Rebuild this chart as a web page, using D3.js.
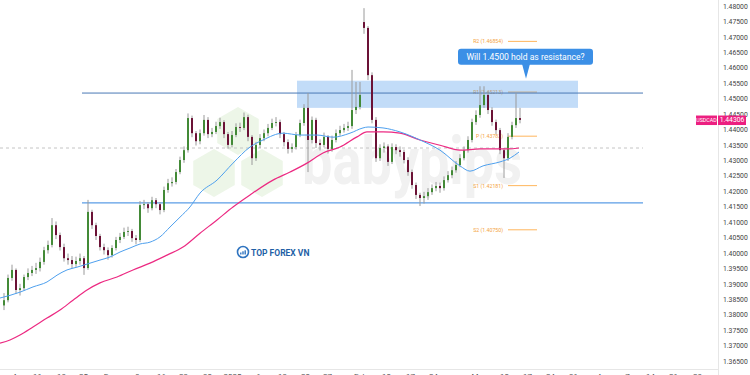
<!DOCTYPE html>
<html>
<head>
<meta charset="utf-8">
<script src="https://cdn.jsdelivr.net/npm/d3@7"></script>
<style>
body { margin: 0; background: #fff; }
svg { display: block; font-family: Roboto, "Liberation Sans", Arial, sans-serif; }
</style>
</head>
<body>
<div id="chart"></div>
<script>
// USDCAD 4H candles (index = candle slot)
var closes = [
  1.3847,1.3919,1.3945,1.3880,1.3886,1.3922,1.3935,1.3945,1.3951,1.3971,
  1.4009,1.4026,1.4090,1.4058,1.4019,1.3983,1.3977,1.3964,1.3974,1.3983,
  1.3951,1.4133,1.4090,1.4055,1.4019,1.4009,1.3993,1.4016,1.4042,1.4052,
  1.4068,1.4071,1.4048,1.4042,1.4155,1.4158,1.4145,1.4171,1.4158,1.4139,
  1.4204,1.4226,1.4230,1.4262,1.4301,1.4333,1.4437,1.4388,1.4362,1.4388,
  1.4431,1.4385,1.4392,1.4411,1.4424,1.4385,1.4350,1.4382,1.4408,1.4405,
  1.4440,1.4376,1.4307,1.4350,1.4372,1.4388,1.4405,1.4421,1.4424,1.4385,
  1.4359,1.4337,1.4343,1.4382,1.4421,1.4470,1.4366,1.4431,1.4356,1.4350,
  1.4376,1.4337,1.4366,1.4388,1.4398,1.4405,1.4411,1.4463,1.4473,1.4512,
  1.4729,1.4576,1.4431,1.4307,1.4340,1.4345,1.4295,1.4343,1.4333,1.4327,
  1.4301,1.4262,1.4220,1.4188,1.4178,1.4184,1.4197,1.4210,1.4217,1.4210,
  1.4236,1.4252,1.4268,1.4285,1.4307,1.4333,1.4366,1.4424,1.4447,1.4479,
  1.4512,1.4463,1.4424,1.4398,1.4333,1.4307,1.4376,1.4414,1.4437,1.4431
];
var highs = [
  1.3870,1.3930,1.3962,1.3950,1.3900,1.3930,1.3950,1.3958,1.3968,1.3985,
  1.4020,1.4040,1.4113,1.4102,1.4066,1.4030,1.3998,1.3990,1.3988,1.3998,
  1.3990,1.4172,1.4140,1.4098,1.4062,1.4030,1.4018,1.4025,1.4052,1.4065,
  1.4082,1.4085,1.4078,1.4058,1.4168,1.4172,1.4165,1.4182,1.4178,1.4165,
  1.4215,1.4240,1.4245,1.4272,1.4312,1.4345,1.4452,1.4445,1.4395,1.4400,
  1.4447,1.4440,1.4405,1.4425,1.4438,1.4430,1.4392,1.4395,1.4420,1.4422,
  1.4455,1.4448,1.4382,1.4360,1.4385,1.4400,1.4418,1.4435,1.4440,1.4432,
  1.4392,1.4368,1.4355,1.4392,1.4432,1.4482,1.4518,1.4442,1.4438,1.4368,
  1.4390,1.4382,1.4380,1.4400,1.4412,1.4418,1.4425,1.4593,1.4554,1.4554,
  1.4793,1.4735,1.4585,1.4440,1.4352,1.4358,1.4352,1.4355,1.4352,1.4345,
  1.4335,1.4310,1.4270,1.4228,1.4195,1.4198,1.4210,1.4222,1.4230,1.4228,
  1.4248,1.4265,1.4280,1.4298,1.4320,1.4345,1.4378,1.4435,1.4462,1.4540,
  1.4540,1.4525,1.4472,1.4432,1.4405,1.4340,1.4388,1.4425,1.4518,1.4470
];
var lows = [
  1.3815,1.3840,1.3910,1.3868,1.3862,1.3878,1.3912,1.3925,1.3932,1.3940,
  1.3962,1.3998,1.4018,1.4045,1.4008,1.3972,1.3962,1.3950,1.3955,1.3962,
  1.3929,1.3945,1.4078,1.4042,1.4008,1.3995,1.3978,1.3985,1.4008,1.4032,
  1.4045,1.4055,1.4036,1.4028,1.4035,1.4142,1.4130,1.4138,1.4145,1.4125,
  1.4132,1.4195,1.4215,1.4222,1.4255,1.4292,1.4325,1.4375,1.4348,1.4352,
  1.4380,1.4372,1.4375,1.4385,1.4402,1.4372,1.4338,1.4342,1.4375,1.4392,
  1.4398,1.4362,1.4285,1.4298,1.4340,1.4362,1.4378,1.4398,1.4410,1.4372,
  1.4345,1.4322,1.4325,1.4335,1.4375,1.4412,1.4262,1.4355,1.4340,1.4332,
  1.4342,1.4322,1.4328,1.4358,1.4380,1.4390,1.4395,1.4402,1.4450,1.4465,
  1.4710,1.4560,1.4420,1.4295,1.4298,1.4325,1.4282,1.4288,1.4320,1.4312,
  1.4290,1.4250,1.4208,1.4175,1.4152,1.4160,1.4172,1.4188,1.4200,1.4195,
  1.4202,1.4228,1.4242,1.4260,1.4278,1.4300,1.4325,1.4358,1.4415,1.4438,
  1.4470,1.4450,1.4412,1.4385,1.4320,1.4243,1.4298,1.4368,1.4405,1.4420
];
var firstOpen = 1.3830;
var gapOpens = [[90, 1.4748]];   // weekend gap (Feb 3 open)

// moving averages [slot, price]
var blueMA = [
  [-1,1.3854],[4,1.3873],[7.25,1.3890],[10.75,1.3906],[13.25,1.3928],[15.75,1.3945],
  [18.25,1.3954],[21.5,1.3967],[24,1.3977],[26.5,1.3987],[29,1.4003],[31.5,1.4016],
  [34,1.4029],[36.5,1.4035],[39,1.4052],[41.5,1.4084],[44,1.4116],[46.5,1.4149],
  [49,1.4194],[53.25,1.4236],[57.25,1.4291],[61.5,1.4343],[64.75,1.4366],[69.75,1.4388],
  [74,1.4382],[78.25,1.4382],[82.25,1.4375],[86.5,1.4388],[89.75,1.4405],[91,1.4408],
  [94.75,1.4405],[99,1.4392],[104,1.4366],[109,1.4333],[114,1.4282],[116.5,1.4265],
  [119.75,1.4282],[124,1.4295],[126.5,1.4307],[128.75,1.4327]
];
var pinkMA = [
  [-1,1.3708],[1.5,1.3718],[4,1.3734],[7.25,1.3760],[10.75,1.3789],[14,1.3815],
  [17.25,1.3847],[20.75,1.3880],[24,1.3903],[28.25,1.3922],[32.25,1.3945],[36.5,1.3967],
  [40.75,1.3993],[44.75,1.4019],[49,1.4064],[53.25,1.4107],[57.25,1.4149],[61.5,1.4188],
  [67.25,1.4236],[71.5,1.4262],[75.75,1.4291],[79.75,1.4324],[84,1.4343],[88.25,1.4376],
  [90.75,1.4392],[94.75,1.4392],[99,1.4388],[104,1.4366],[109,1.4349],[114,1.4333],
  [119,1.4337],[125.75,1.4337],[128.75,1.4340]
];

// drawn levels
var resistanceLevel = 1.4518;
var supportLevel = 1.4162;
var dashedLevel = 1.4340;
var zoneLow = 1.4470, zoneHigh = 1.4558;
var pivotNames = ["R2", "R1", "P", "S1", "S2"];
var pivotValues = [1.46854, 1.45213, 1.43783, 1.42181, 1.40750];
var lastPrice = 1.44306;

// time axis
var tickSlots = [2.5, 8.25, 14.25, 19.75, 26.5, 33.25, 39.25, 44.75, 50.75, 57, 63.5, 69.5, 75.25, 80.75,
  89, 95.5, 101.5, 107.25, 118.5, 125, 130.75, 136.5, 142.25, 149.75, 155.75, 161.5, 167.25, 173.25];
var tickLabels = ["4", "11", "18", "25", "Dec", "9", "16", "23", "30", "2025", "6", "13", "20", "27",
  "Feb", "10", "17", "24", "Mar", "10", "17", "24", "31", "Apr", "7", "14", "21", "28"];
var priceTicks = d3.range(0, 24).map(function (k) { return +(1.365 + k * 0.005).toFixed(3); });

var width = 750, height = 375;
var plotRight = 718, plotBottom = 369;

var x = d3.scaleLinear().domain([0, 129]).range([4, 520]);
var y = d3.scaleLinear().domain([1.365, 1.48]).range([361, 6]);

var svg = d3.select("#chart").append("svg")
  .attr("width", width)
  .attr("height", height);

svg.append("defs").append("clipPath").attr("id", "plot")
  .append("rect").attr("x", 0).attr("y", 0).attr("width", plotRight).attr("height", plotBottom);

var g = svg.append("g").attr("clip-path", "url(#plot)");

// watermark: hexagon logo + babypips text
var hexCenters = [[238, 131], [214, 173], [262, 173]];
hexCenters.forEach(function (c) {
  var pts = d3.range(6).map(function (k) {
    var a = Math.PI / 3 * k - Math.PI / 2;
    return [c[0] + 24 * Math.cos(a), c[1] + 24 * Math.sin(a)];
  });
  g.append("path").attr("d", "M" + pts.join("L") + "Z").attr("fill", "#edf6e8");
});
g.append("text")
  .attr("x", 302).attr("y", 184)
  .attr("textLength", 220).attr("lengthAdjust", "spacingAndGlyphs")
  .attr("font-size", 66).attr("font-weight", "bold")
  .attr("fill", "#f1f1f1")
  .text("babypips");

// TOP FOREX VN logo
var logo = g.append("g").attr("transform", "translate(243,252)");
logo.append("circle").attr("r", 5.5).attr("fill", "none").attr("stroke", "#2f74c0").attr("stroke-width", 1.6);
[[-2.2, 2], [0, 3.2], [2.2, 4.2]].forEach(function (b) {
  logo.append("rect").attr("x", b[0] - 0.7).attr("y", 2.5 - b[1]).attr("width", 1.4).attr("height", b[1]).attr("fill", "#2f74c0");
});
g.append("text").attr("x", 251).attr("y", 256)
  .attr("font-size", 8.5).attr("font-weight", "bold").attr("fill", "#1f5fa6")
  .text("TOP FOREX VN");

// pivot levels
var pivots = g.append("g");
pivotNames.forEach(function (name, i) {
  var v = pivotValues[i];
  pivots.append("line")
    .attr("x1", x(126)).attr("x2", x(133.25))
    .attr("y1", y(v)).attr("y2", y(v))
    .attr("stroke", "#ffb65c").attr("stroke-width", 1);
  pivots.append("text")
    .attr("x", x(124.75)).attr("y", y(v) + 2)
    .attr("text-anchor", "end")
    .attr("font-size", 5.2).attr("fill", "#f4a340")
    .text(name + " (" + v.toFixed(5) + ")");
});

// resistance zone
g.append("rect")
  .attr("x", x(73.25)).attr("width", x(143.5) - x(73.25))
  .attr("y", y(zoneHigh)).attr("height", y(zoneLow) - y(zoneHigh))
  .attr("fill", "rgba(70,150,235,0.33)");

// horizontal lines
g.append("line")
  .attr("x1", x(-1)).attr("x2", x(159.75))
  .attr("y1", y(dashedLevel)).attr("y2", y(dashedLevel))
  .attr("stroke", "#c4c4c4").attr("stroke-dasharray", "3,3").attr("stroke-width", 1);
g.append("line")
  .attr("x1", x(19.5)).attr("x2", x(159.75))
  .attr("y1", y(resistanceLevel)).attr("y2", y(resistanceLevel))
  .attr("stroke", "#4a78b5").attr("stroke-width", 1);
g.append("line")
  .attr("x1", x(19.5)).attr("x2", x(159.75))
  .attr("y1", y(supportLevel)).attr("y2", y(supportLevel))
  .attr("stroke", "#5b9de6").attr("stroke-width", 1.2);

// candles
var candles = closes.map(function (c, i) {
  return { i: i, open: i === 0 ? firstOpen : closes[i - 1], close: c, high: highs[i], low: lows[i] };
});
gapOpens.forEach(function (gp) { candles[gp[0]].open = gp[1]; });

var cg = g.append("g");
cg.selectAll("line.wick").data(candles).enter().append("line")
  .attr("class", "wick")
  .attr("x1", function (d) { return x(d.i); }).attr("x2", function (d) { return x(d.i); })
  .attr("y1", function (d) { return y(d.high); }).attr("y2", function (d) { return y(d.low); })
  .attr("stroke", "#9a9a9a").attr("stroke-width", 1);
cg.selectAll("rect.body").data(candles).enter().append("rect")
  .attr("class", "body")
  .attr("x", function (d) { return x(d.i) - 1; })
  .attr("width", 2)
  .attr("y", function (d) { return y(Math.max(d.open, d.close)); })
  .attr("height", function (d) { return Math.max(0.8, Math.abs(y(d.open) - y(d.close))); })
  .attr("fill", function (d) { return d.close >= d.open ? "#438a37" : "#6b1236"; });

// moving averages
var maLine = d3.line()
  .x(function (d) { return x(d[0]); })
  .y(function (d) { return y(d[1]); })
  .curve(d3.curveMonotoneX);
g.append("path").attr("d", maLine(pinkMA)).attr("fill", "none").attr("stroke", "#ec2a82").attr("stroke-width", 1.2);
g.append("path").attr("d", maLine(blueMA)).attr("fill", "none").attr("stroke", "#4ea0ee").attr("stroke-width", 1);

// callout
var tipX = x(130.5), tipY = y(1.4564);
var bubble = g.append("g");
bubble.append("rect")
  .attr("x", tipX - 68).attr("y", tipY - 30)
  .attr("width", 135).attr("height", 16).attr("rx", 3)
  .attr("fill", "#3b8fe6");
bubble.append("path")
  .attr("d", "M" + (tipX - 4) + "," + (tipY - 15) + "L" + tipX + "," + tipY + "L" + (tipX + 4) + "," + (tipY - 15) + "Z")
  .attr("fill", "#3b8fe6");
bubble.append("text")
  .attr("x", tipX - 0.5).attr("y", tipY - 19)
  .attr("text-anchor", "middle")
  .attr("font-size", 8.6).attr("fill", "#fff")
  .text("Will 1.4500 hold as resistance?");

// axes
svg.append("line").attr("x1", 0).attr("x2", plotRight).attr("y1", plotBottom + 0.5).attr("y2", plotBottom + 0.5)
  .attr("stroke", "#e6e6e6");
svg.append("line").attr("x1", plotRight + 0.5).attr("x2", plotRight + 0.5).attr("y1", 0).attr("y2", height)
  .attr("stroke", "#e6e6e6");

var yAxis = svg.append("g")
  .attr("transform", "translate(" + plotRight + ",0)")
  .call(d3.axisRight(y).tickValues(priceTicks).tickSize(0).tickPadding(5).tickFormat(d3.format(".5f")));
yAxis.select(".domain").remove();
yAxis.selectAll("text").attr("font-size", 6.8).attr("fill", "#444").attr("font-family", "Roboto, Arial, sans-serif");

var xAxis = svg.append("g")
  .attr("transform", "translate(0," + plotBottom + ")")
  .call(d3.axisBottom(x).tickValues(tickSlots).tickSize(0).tickPadding(4)
    .tickFormat(function (d, i) { return tickLabels[i]; }));
xAxis.select(".domain").remove();
xAxis.selectAll("text").attr("font-size", 8).attr("fill", "#555").attr("font-family", "Roboto, Arial, sans-serif");

// price badges
var by = y(lastPrice);
svg.append("rect").attr("x", 696).attr("y", by - 4.5).attr("width", 21).attr("height", 9.5).attr("fill", "#ec1f80");
svg.append("text").attr("x", 706.5).attr("y", by + 2).attr("text-anchor", "middle")
  .attr("font-size", 5.3).attr("fill", "#fff").text("USDCAD");
svg.append("rect").attr("x", 718).attr("y", by - 4.5).attr("width", 28).attr("height", 9.5).attr("fill", "#ec1f80");
svg.append("text").attr("x", 732).attr("y", by + 2.3).attr("text-anchor", "middle")
  .attr("font-size", 6.8).attr("fill", "#fff").text(lastPrice.toFixed(5));
</script>
</body>
</html>
